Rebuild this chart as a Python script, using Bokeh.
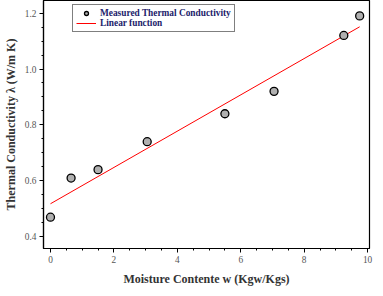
from bokeh.plotting import figure
from bokeh.models import Range1d, Legend, LegendItem, FixedTicker, NumeralTickFormatter
from bokeh.embed import file_html
from bokeh.resources import INLINE

# measured data
moisture = [0.0, 0.65, 1.5, 3.05, 5.5, 7.05, 9.25, 9.75]
conductivity = [0.47, 0.61, 0.64, 0.74, 0.84, 0.92, 1.12, 1.19]

# linear fit line end points
fit_x = [0.0, 9.75]
fit_y = [0.518, 1.151]

x_ticks = [0, 2, 4, 6, 8, 10]
y_ticks = [0.4, 0.6, 0.8, 1.0, 1.2]

FONT = "Liberation Serif"

p = figure(width=375, height=288, output_backend="svg", toolbar_location=None,
           x_range=Range1d(-0.22, 10.06), y_range=Range1d(0.358, 1.245),
           min_border_left=35, min_border_right=6, min_border_top=0, min_border_bottom=38)
p.xgrid.visible = False
p.ygrid.visible = False
p.outline_line_color = "black"
p.outline_line_width = 1.2

r_line = p.line(fit_x, fit_y, line_color="red", line_width=1)
r_pts = p.scatter(moisture, conductivity, size=8, fill_color="#b0b0b0",
                  line_color="black", line_width=1.3)

for ax in (p.xaxis[0], p.yaxis[0]):
    ax.axis_line_color = "black"
    ax.axis_line_width = 1.2
    ax.major_tick_out = 4
    ax.major_tick_in = 0
    ax.minor_tick_out = 2
    ax.minor_tick_in = 0
    ax.major_label_text_font = FONT
    ax.major_label_text_font_size = "7pt"
    ax.major_label_text_color = "#555555"
    ax.axis_label_text_font = FONT
    ax.axis_label_text_font_size = "9pt"
    ax.axis_label_text_font_style = "bold"
    ax.axis_label_text_color = "#333333"

p.xaxis[0].ticker = FixedTicker(ticks=x_ticks,
                                minor_ticks=[i * 0.5 for i in range(0, 21)])
p.yaxis[0].ticker = FixedTicker(ticks=y_ticks,
                                minor_ticks=[0.4 + i * 0.05 for i in range(-1, 18)])
p.yaxis[0].formatter = NumeralTickFormatter(format="0.0")
p.xaxis.major_label_standoff = 3
p.yaxis.major_label_standoff = 3
p.xaxis.axis_label_standoff = 6
p.yaxis.axis_label_standoff = 4
p.xaxis.axis_label = "Moisture Contente w (Kgw/Kgs)"
p.yaxis.axis_label = "Thermal Conductivity λ (W/m K)"

legend = Legend(items=[LegendItem(label="Measured Thermal Conductivity", renderers=[r_pts]),
                       LegendItem(label="Linear function", renderers=[r_line])],
                location=(29, 216))
legend.border_line_color = "black"
legend.border_line_width = 1.3
legend.label_text_font = FONT
legend.label_text_font_size = "7pt"
legend.label_text_font_style = "bold"
legend.label_text_color = "#22226a"
legend.glyph_height = 10
legend.glyph_width = 20
legend.label_height = 10
legend.spacing = 0
legend.padding = 3
legend.margin = 0
legend.label_standoff = 4
legend.background_fill_alpha = 1
p.add_layout(legend)

open("out.html", "w").write(file_html(p, INLINE))
